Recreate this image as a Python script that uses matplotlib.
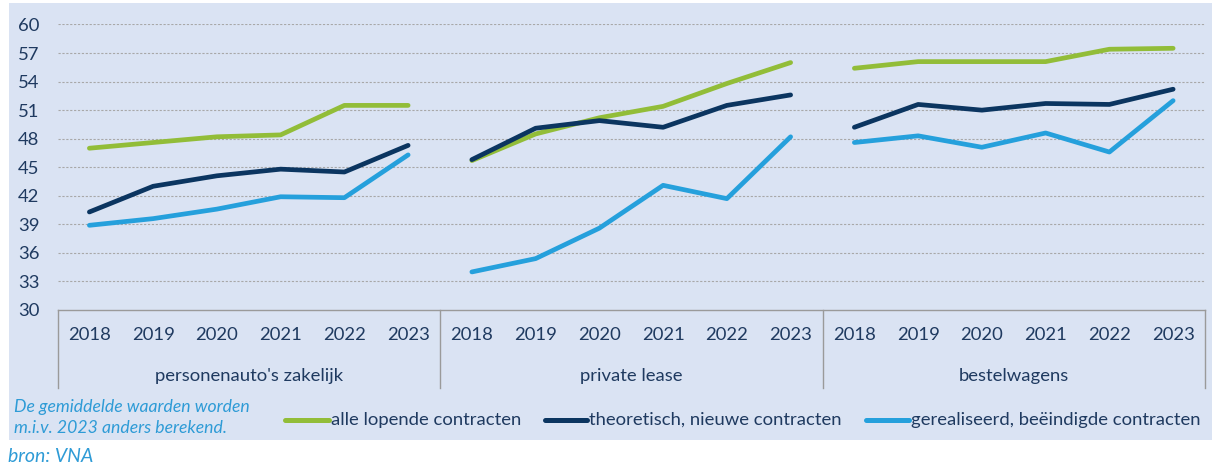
import numpy as np
import matplotlib
matplotlib.use("Agg")
import matplotlib.pyplot as plt
from matplotlib.patches import Rectangle
from matplotlib.lines import Line2D

# data
years = ["2018", "2019", "2020", "2021", "2022", "2023"]
groups = ["personenauto's zakelijk", "private lease", "bestelwagens"]
series_names = ["alle lopende contracten", "theoretisch, nieuwe contracten",
                "gerealiseerd, beëindigde contracten"]
alle_lopende = [
    [47.0, 47.6, 48.2, 48.4, 51.5, 51.5],
    [45.7, 48.5, 50.2, 51.4, 53.8, 56.0],
    [55.4, 56.1, 56.1, 56.1, 57.4, 57.5],
]
theoretisch = [
    [40.3, 43.0, 44.1, 44.8, 44.5, 47.3],
    [45.8, 49.1, 49.9, 49.2, 51.5, 52.6],
    [49.2, 51.6, 51.0, 51.7, 51.6, 53.2],
]
gerealiseerd = [
    [38.9, 39.6, 40.6, 41.9, 41.8, 46.3],
    [34.0, 35.4, 38.6, 43.1, 41.7, 48.2],
    [47.6, 48.3, 47.1, 48.6, 46.6, 52.0],
]
y_ticks = list(range(30, 61, 3))

colors = ["#92bd38", "#0b3560", "#25a0dc"]
bg = "#dae3f3"
txt = "#1f3a60"
note_col = "#2e9bd6"
plt.rcParams["font.family"] = ["Lato", "DejaVu Sans"]
fs = 13.3

W, H = 1214, 468
fig = plt.figure(figsize=(W / 100, H / 100), dpi=100)
fig.add_artist(Rectangle((9 / W, 1 - 440 / H), (1212 - 9) / W, (440 - 3) / H,
                         transform=fig.transFigure, facecolor=bg, edgecolor="none", zorder=-10))

L, R, T, B = 57.5, 1205, 24.5, 310
ax = fig.add_axes([L / W, 1 - B / H, (R - L) / W, (B - T) / H])
ax.set_facecolor("none")
ax.set_xlim(-0.5, 17.5)
ax.set_ylim(30, 60)

for s in ["left", "right", "top"]:
    ax.spines[s].set_visible(False)
ax.spines["bottom"].set_color("#9a9a9a")
ax.spines["bottom"].set_linewidth(1.0)

ax.set_yticks(y_ticks)
ax.set_yticklabels([str(v) for v in y_ticks])
ax.tick_params(axis="y", length=0, pad=13, labelsize=fs, labelcolor=txt)
for v in y_ticks[1:]:
    ax.axhline(v, color="#a8a8a8", lw=0.8, ls=(0, (2, 1.5)), zorder=1)

xt = np.arange(len(groups) * len(years))
ax.set_xticks(xt)
ax.set_xticklabels(years * len(groups))
ax.tick_params(axis="x", length=0, pad=12, labelsize=fs, labelcolor=txt)

for data, c in zip([alle_lopende, theoretisch, gerealiseerd], colors):
    for gi, vals in enumerate(data):
        x = np.arange(len(years)) + gi * len(years)
        ax.plot(x, vals, color=c, lw=3.4, solid_capstyle="round", zorder=3)

# category separators and group labels
sep_bottom = -(388 - B) / (B - T)
for k in range(len(groups) + 1):
    xs = -0.5 + k * len(years)
    ax.plot([xs, xs], [0, sep_bottom], transform=ax.get_xaxis_transform(),
            color="#9a9a9a", lw=1.0, clip_on=False)
for gi, g in enumerate(groups):
    ax.text(gi * len(years) + 2.5, -(376 - B) / (B - T), g, transform=ax.get_xaxis_transform(),
            ha="center", va="center", fontsize=fs, color=txt)

# legend
ly = 1 - 420 / H
for (x0, x1), name, c in zip([(285, 329), (545, 587), (866, 909)], series_names, colors):
    fig.add_artist(Line2D([x0 / W, x1 / W], [ly, ly], color=c, lw=3.6,
                          solid_capstyle="round", transform=fig.transFigure))
    fig.text((x1 + 2) / W, ly, name, ha="left", va="center", fontsize=fs, color=txt)

fig.text(14 / W, 1 - 407 / H, "De gemiddelde waarden worden", ha="left", va="center",
         fontsize=12.7, style="italic", color=note_col)
fig.text(14 / W, 1 - 428 / H, "m.i.v. 2023 anders berekend.", ha="left", va="center",
         fontsize=12.7, style="italic", color=note_col)
fig.text(8 / W, 1 - 457 / H, "bron: VNA", ha="left", va="center",
         fontsize=14, style="italic", color=note_col)

fig.savefig("out.png", dpi=100, facecolor="white")
